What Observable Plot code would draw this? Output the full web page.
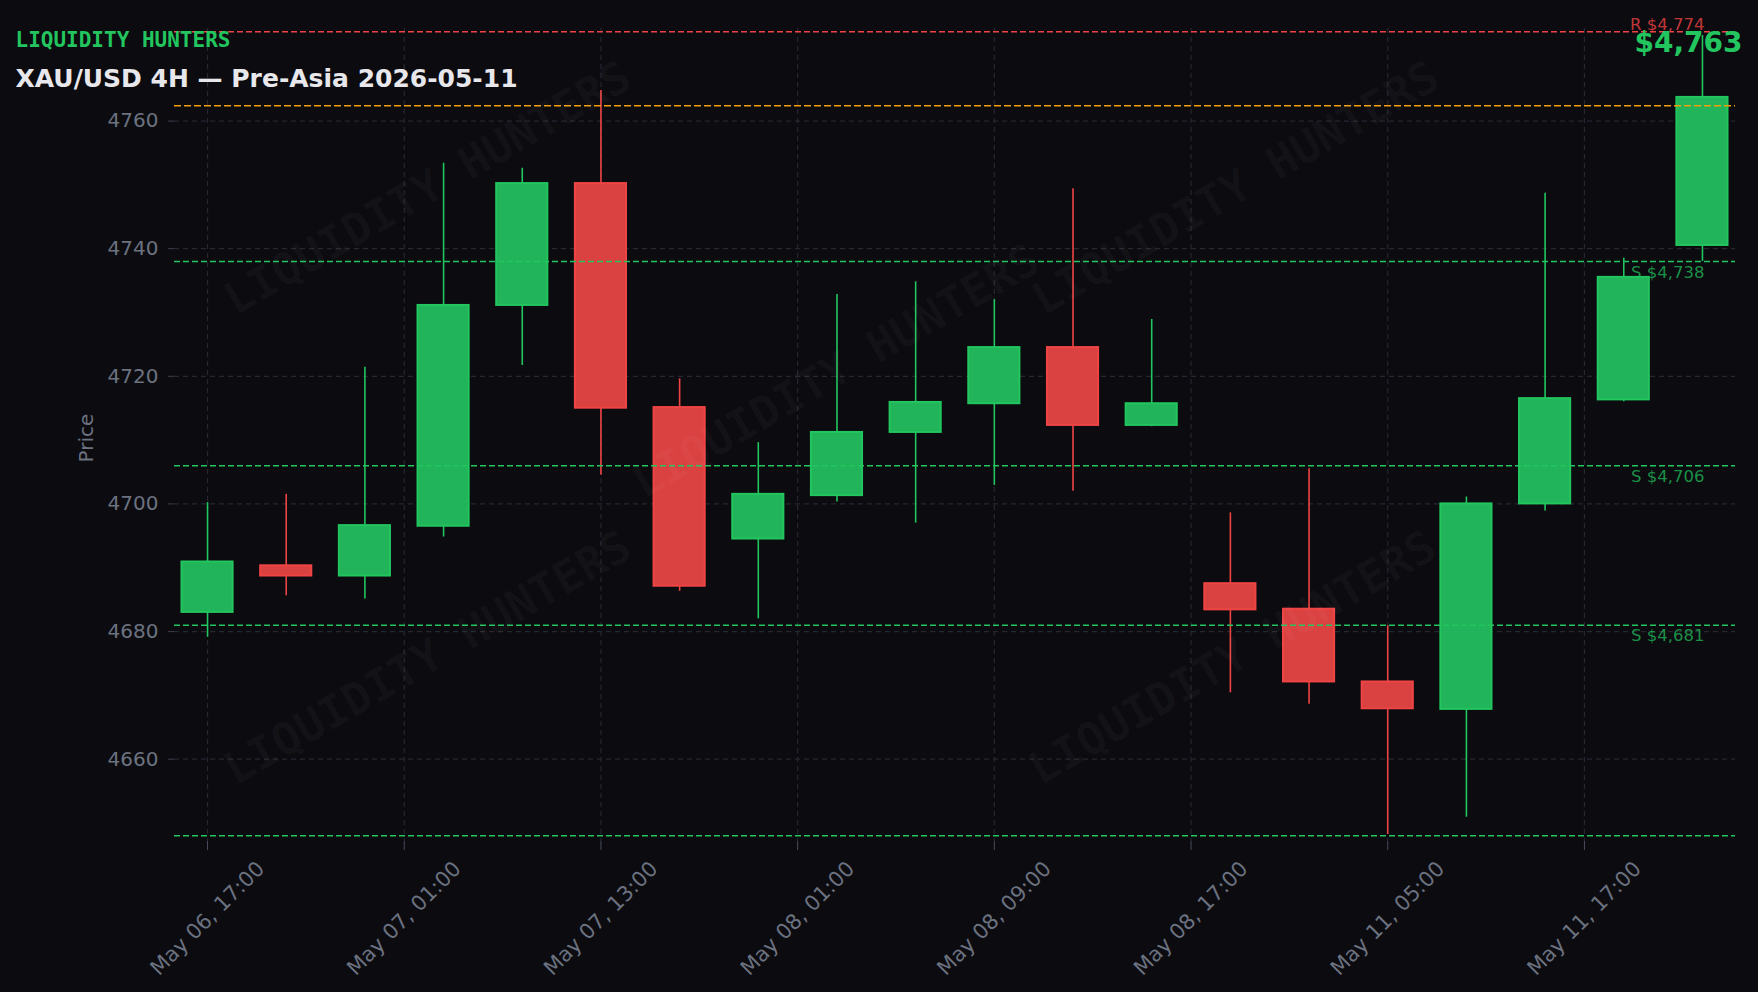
<!DOCTYPE html>
<html>
<head>
<meta charset="utf-8">
<script src="https://cdn.jsdelivr.net/npm/d3@7"></script>
<script src="https://cdn.jsdelivr.net/npm/@observablehq/plot@0.6"></script>
<style>
  html, body { margin: 0; padding: 0; background: #0b0b10; }
  #chart { width: 1758px; height: 992px; }
</style>
</head>
<body>
<div id="chart"></div>
<script>
// ---------------- data ----------------
const candleIndex = [0, 1, 2, 3, 4, 5, 6, 7, 8, 9, 10, 11, 12, 13, 14, 15, 16, 17, 18, 19];
const opens  = [4683.0, 4690.3, 4688.7, 4696.5, 4731.1, 4750.2, 4715.1, 4694.5, 4701.3, 4711.2,
                4715.7, 4724.5, 4712.3, 4687.5, 4683.5, 4672.1, 4667.8, 4700.0, 4716.3, 4740.5];
const highs  = [4700.2, 4701.5, 4721.4, 4753.4, 4752.6, 4764.8, 4719.6, 4709.6, 4732.8, 4734.8,
                4732.0, 4749.4, 4728.9, 4698.6, 4705.5, 4680.9, 4701.1, 4748.7, 4738.5, 4773.4];
const lows   = [4679.1, 4685.6, 4685.1, 4694.8, 4721.7, 4704.5, 4686.3, 4682.0, 4700.3, 4697.0,
                4702.9, 4702.0, 4712.1, 4670.4, 4668.6, 4648.2, 4650.9, 4698.9, 4716.0, 4738.0];
const closes = [4690.9, 4688.7, 4696.6, 4731.1, 4750.2, 4715.0, 4687.1, 4701.5, 4711.2, 4715.9,
                4724.5, 4712.3, 4715.7, 4683.4, 4672.1, 4667.9, 4700.0, 4716.5, 4735.5, 4763.7];

const xTickPositions = [0, 2.5, 5, 7.5, 10, 12.5, 15, 17.5];
const xTickLabels = ["May 06, 17:00", "May 07, 01:00", "May 07, 13:00", "May 08, 01:00",
                     "May 08, 09:00", "May 08, 17:00", "May 11, 05:00", "May 11, 17:00"];
const yTicks = [4660, 4680, 4700, 4720, 4740, 4760];

const supportLevels = [4738, 4706, 4681];
const supportLabels = ["S $4,738", "S $4,706", "S $4,681"];
const lowLevels = [4648];
const resistanceLevels = [4774];
const resistanceLabels = ["R $4,774"];
const currentLevels = [4762.4];

const brand = "LIQUIDITY HUNTERS";
const title = "XAU/USD 4H — Pre-Asia 2026-05-11";
const yLabel = "Price";

// ---------------- build tables ----------------
const candles = candleIndex.map((i, k) => ({i, open: opens[k], high: highs[k], low: lows[k], close: closes[k]}));
const lastI = candleIndex[candleIndex.length - 1];
const lastClose = closes[closes.length - 1];
const xTicks = xTickPositions.map((p, k) => ({p, label: xTickLabels[k]}));
const supports = supportLevels.map((v, k) => ({v, label: supportLabels[k]}));
const resist = resistanceLevels.map((v, k) => ({v, label: resistanceLabels[k]}));

// ---------------- styles ----------------
const GREEN = "#22c55e", GREEN_FILL = "#21b45a";
const RED = "#ef4444", RED_FILL = "#da4141";
const ORANGE = "#f59e0b";
const GRAY = "#6b7280";
const GRID = "#262730";
const BW = 0.65;
const up = d => d.close >= d.open;
const down = d => d.close < d.open;
const wmSpots = [{x: 2.8, y: 4749.4}, {x: 7.99, y: 4720.7}, {x: 13.07, y: 4749.4}, {x: 2.8, y: 4675.8}, {x: 13.03, y: 4675.8}];

const chart = Plot.plot({
  width: 1758,
  height: 992,
  marginLeft: 174,
  marginRight: 23,
  marginTop: 28,
  marginBottom: 151,
  style: {background: "#0b0b10", fontFamily: "DejaVu Sans", fontSize: "20px", color: GRAY, overflow: "visible"},
  x: {type: "linear", domain: [-0.42, 19.42]},
  y: {type: "linear", domain: [4647.1, 4774.5]},
  marks: [
    Plot.gridY(yTicks, {stroke: GRID, strokeOpacity: 1, strokeDasharray: "5,4", strokeWidth: 1.2}),
    Plot.gridX(xTickPositions, {stroke: GRID, strokeOpacity: 1, strokeDasharray: "5,4", strokeWidth: 1.2}),
    Plot.axisY(yTicks, {tickSize: 6, tickPadding: 10, tickFormat: d3.format("d"), fontSize: 20, fill: GRAY, stroke: "#3c3f4a", label: null}),
    Plot.axisX(xTickPositions, {tickSize: 9, tickFormat: () => "", stroke: "#4a4e5a", label: null}),
    Plot.text(xTicks, {x: "p", text: "label", frameAnchor: "bottom", rotate: -45, textAnchor: "middle",
      lineAnchor: "middle", dy: 77, fontSize: 21, fill: GRAY}),
    Plot.text([yLabel], {frameAnchor: "left", dx: -88, dy: 3, rotate: -90, textAnchor: "middle",
      lineAnchor: "middle", fontSize: 20, fill: GRAY}),

    // wicks
    Plot.ruleX(candles, {filter: up, x: "i", y1: "low", y2: "high", stroke: GREEN, strokeWidth: 1.6}),
    Plot.ruleX(candles, {filter: down, x: "i", y1: "low", y2: "high", stroke: RED, strokeWidth: 1.6}),
    // bodies
    Plot.rect(candles, {filter: up, x1: d => d.i - BW / 2, x2: d => d.i + BW / 2, y1: "open", y2: "close",
      fill: GREEN_FILL, stroke: GREEN, strokeWidth: 2}),
    Plot.rect(candles, {filter: down, x1: d => d.i - BW / 2, x2: d => d.i + BW / 2, y1: "open", y2: "close",
      fill: RED_FILL, stroke: RED, strokeWidth: 2}),

    // levels
    Plot.ruleY(supportLevels, {stroke: GREEN, strokeDasharray: "6,3", strokeWidth: 1.5}),
    Plot.ruleY(lowLevels, {stroke: GREEN, strokeDasharray: "6,3", strokeWidth: 1.5}),
    Plot.ruleY(resistanceLevels, {stroke: RED, strokeDasharray: "6,3", strokeWidth: 1.5}),
    Plot.ruleY(currentLevels, {stroke: ORANGE, strokeDasharray: "7,3", strokeWidth: 1.5}),

    // watermark
    Plot.text(wmSpots, {x: "x", y: "y", text: () => brand, rotate: -30, fontSize: 45, fontWeight: "bold",
      fontFamily: "DejaVu Sans Mono", fill: "#ffffff", fillOpacity: 0.035, textAnchor: "middle", lineAnchor: "middle"}),

    // level labels
    Plot.text(supports, {x: () => lastI, y: "v", text: "label", textAnchor: "end", lineAnchor: "top",
      dx: 2, dy: 4.5, fontSize: 16.5, fill: GREEN, fillOpacity: 0.72}),
    Plot.text(resist, {x: () => lastI, y: "v", text: "label", textAnchor: "end", lineAnchor: "bottom",
      dx: 2, dy: -2, fontSize: 16.5, fill: RED, fillOpacity: 0.8}),
    Plot.text([`$${d3.format(",")(Math.trunc(lastClose))}`], {frameAnchor: "top-right", textAnchor: "end",
      lineAnchor: "bottom", dx: 7, dy: 23.7, fontSize: 28, fontWeight: "bold", fill: GREEN}),

    // titles
    Plot.text([brand], {frameAnchor: "top-left", textAnchor: "start", lineAnchor: "bottom", dx: -159, dy: 18.5,
      fontSize: 21, fontWeight: "bold", fontFamily: "DejaVu Sans Mono", fill: GREEN}),
    Plot.text([title], {frameAnchor: "top-left", textAnchor: "start", lineAnchor: "bottom", dx: -159, dy: 58,
      fontSize: 25, fontWeight: "bold", fill: "#e8e8ec"})
  ]
});
document.getElementById("chart").appendChild(chart);
</script>
</body>
</html>
